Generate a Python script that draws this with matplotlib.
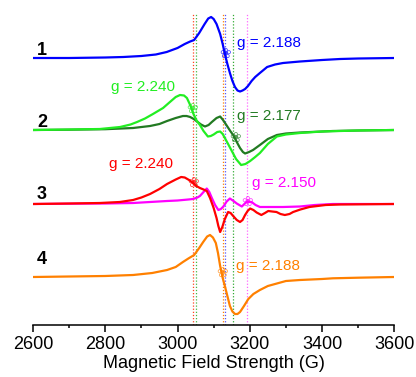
import numpy as np
import matplotlib
matplotlib.use("Agg")
from matplotlib import pyplot as plt

plt.rcParams['font.family'] = ['Liberation Sans', 'DejaVu Sans']

# --- spectra (field in G, intensity in arbitrary units relative to baseline) ---
field_1 = [2600, 2700, 2800, 2850, 2900, 2940, 2970, 3000, 3020, 3035, 3046, 3060, 3075, 3085, 3093,
           3100, 3108, 3118, 3125, 3131, 3138, 3145, 3152, 3159, 3166, 3173, 3180, 3187, 3195, 3205,
           3215, 3228, 3248, 3270, 3292, 3339, 3400, 3450, 3500, 3600]
int_1 = [0, 0, 0.5, 1, 2, 3.5, 6, 10, 14, 16.5, 18, 25, 34, 39.5, 41,
         39, 34, 24, 14, 4, -6, -15, -23, -29, -32.5, -33.5, -32.5, -31, -28, -23,
         -19, -15, -9, -6.5, -5, -3.5, -2, -1, -0.5, 0]

field_2a = [2600, 2700, 2785, 2841, 2870, 2888, 2910, 2932, 2960, 2979, 2995, 3007, 3018, 3026, 3035,
            3043, 3052, 3062, 3072, 3084, 3092, 3100, 3110, 3118, 3125, 3131, 3140, 3151, 3162, 3176,
            3188, 3201, 3215, 3228, 3250, 3275, 3300, 3339, 3400, 3450, 3500, 3600]
int_2a = [0, 0.5, 1, 3, 5.5, 8, 11.5, 16, 22, 28, 33, 35, 34.5, 32, 25,
          17, 10, 5, -1, -6.5, -6, -4.5, -2, -1.5, -4, -8, -14, -21.5, -29, -35,
          -34, -31, -27, -23, -14, -6.5, -4.5, -3, -1.5, -1, -0.5, 0]

field_2b = [2600, 2700, 2800, 2877, 2924, 2950, 2971, 2995, 3015, 3025, 3035, 3045, 3054, 3065, 3076,
            3086, 3095, 3108, 3118, 3126, 3137, 3146, 3154, 3164, 3173, 3181, 3187, 3198, 3209, 3228,
            3250, 3275, 3300, 3339, 3400, 3430, 3500, 3600]
int_2b = [0, 0.3, 0.8, 2, 4, 6, 9, 12, 14, 14, 13, 11, 8.5, 5.5, 3.5,
          5, 8, 12, 13.5, 10, 4, -1, -5, -12, -18, -22, -23.5, -22, -20, -15,
          -9, -5, -3.5, -2.5, -1.5, -1, -0.5, 0]

field_3a = [2600, 2700, 2785, 2840, 2877, 2900, 2924, 2950, 2971, 2995, 3010, 3020, 3032, 3043, 3052,
            3062, 3072, 3081, 3090, 3100, 3108, 3113, 3118, 3124, 3131, 3140, 3147, 3154, 3164, 3173,
            3180, 3187, 3194, 3201, 3210, 3219, 3232, 3242, 3251, 3262, 3274, 3285, 3297, 3310, 3320,
            3340, 3365, 3410, 3450, 3600]
int_3a = [0, 0.5, 1, 2, 4, 6.5, 10, 15, 20, 24.5, 27, 26.5, 24, 21, 18,
          16, 14.5, 13, 6, -4, -14, -22, -28, -23, -15, -8, -9, -12, -16, -18,
          -16, -11, -7, -4.5, -6, -8.5, -11, -9, -7, -7.5, -8, -10, -11, -10, -8,
          -5.5, -3, -1, -0.5, 0]

field_3b = [2600, 2700, 2800, 2877, 2971, 3000, 3030, 3043, 3055, 3062, 3072, 3081, 3088, 3095, 3104,
            3113, 3120, 3127, 3136, 3145, 3155, 3164, 3178, 3185, 3192, 3205, 3216, 3228, 3255, 3292,
            3339, 3380, 3430, 3600]
int_3b = [0, 0.3, 0.5, 1, 3, 3.5, 4.5, 5, 6.5, 8, 12, 15.5, 12, 6, -1,
          -6, -5, -2.5, 2.5, 5.5, 3, 0.5, -2.5, 0, 2.3, 2, -1, -3, -3, -3,
          -2.5, -1, 0, 0]

field_4 = [2600, 2700, 2800, 2877, 2930, 2971, 2995, 3015, 3030, 3046, 3060, 3071, 3082, 3090, 3098,
           3106, 3112, 3118, 3125, 3131, 3138, 3145, 3152, 3159, 3166, 3173, 3184, 3196, 3210, 3228,
           3250, 3275, 3300, 3339, 3400, 3430, 3500, 3600]
int_4 = [0, 0.5, 1, 2, 4, 7, 10, 15, 18.5, 22, 29, 35, 40.5, 42, 39.5,
         34, 24, 11, -1, -9, -19, -29, -34.5, -37, -37, -35, -29, -22, -17, -13,
         -9, -6.5, -4, -3, -2, -1.3, -0.7, 0]

# g-value positions (G) and labels
g_fields = [3131, 3039, 3159, 3044, 3192, 3122]
g_labels = ['g = 2.188', 'g = 2.240', 'g = 2.177', 'g = 2.240', 'g = 2.150', 'g = 2.188']
line_fields = [3044, 3050, 3126, 3132, 3154, 3192]
sample_names = ['1', '2', '3', '4']

c_blue, c_lg, c_dg, c_red, c_mag, c_or = '#0000ff', '#22ee22', '#227a22', '#ff0000', '#ff00ff', '#ff8000'

fig = plt.figure(figsize=(4.16, 3.77), dpi=100)
ax = fig.add_axes([33 / 416, 52 / 377, 361.3 / 416, 325 / 377])
ax.set_xlim(2600, 3600)
ax.set_ylim(0, 325)

# trace baselines (vertical offsets)
traces = [
    (field_1, int_1, 267, c_blue),
    (field_2b, int_2b, 195, c_dg),
    (field_2a, int_2a, 195, c_lg),
    (field_3b, int_3b, 121, c_mag),
    (field_3a, int_3a, 121, c_red),
    (field_4, int_4, 48, c_or),
]

# dotted guide lines
line_cols = ['#ff4422', '#44bb44', c_or, '#5555ff', '#33aa33', '#ff66ff']
for f, c in zip(line_fields, line_cols):
    ax.vlines(f, 0, 311, colors=c, linestyles=(0, (1, 1.5)), linewidth=0.9, zorder=1)

for fx, iy, off, c in traces:
    ax.plot(fx, np.array(iy) + off, color=c, lw=1.6, zorder=3)

# g markers on traces
marker_src = [(field_1, int_1, 267, c_blue), (field_2a, int_2a, 195, c_lg), (field_2b, int_2b, 195, c_dg),
              (field_3a, int_3a, 121, c_red), (field_3b, int_3b, 121, c_mag), (field_4, int_4, 48, c_or)]
for gf, (fx, iy, off, c) in zip(g_fields, marker_src):
    yv = np.interp(gf, fx, iy) + off
    ax.text(gf, yv, '\u2740', color=c, alpha=0.75, fontsize=10, ha='center', va='center',
            family=['DejaVu Sans'], zorder=4)

# g labels
label_pos = [(3165, 278), (2816, 234.5), (3164, 205), (2811, 157), (3207, 138.5), (3161, 55)]
label_cols = [c_blue, c_lg, c_dg, c_red, c_mag, c_or]
for (x, y), t, c in zip(label_pos, g_labels, label_cols):
    ax.text(x, y, t, color=c, fontsize=11, ha='left', va='baseline')

# sample numbers
for name, y in zip(sample_names, [270, 198, 126, 61]):
    ax.text(2611, y, name, fontsize=13, fontweight='bold', ha='left', va='baseline')

for s in ['top', 'right', 'left']:
    ax.spines[s].set_visible(False)
ax.spines['bottom'].set_linewidth(1.1)
ax.set_yticks([])
ax.set_xticks(np.arange(2600, 3601, 200))
ax.set_xticks(np.arange(2700, 3600, 200), minor=True)
ax.tick_params(axis='x', which='major', length=5, width=1.1, labelsize=13, pad=3)
ax.tick_params(axis='x', which='minor', length=2.5, width=1.1)
ax.set_xlabel('Magnetic Field Strength (G)', fontsize=13, labelpad=1)

fig.savefig('out.png', dpi=100)
